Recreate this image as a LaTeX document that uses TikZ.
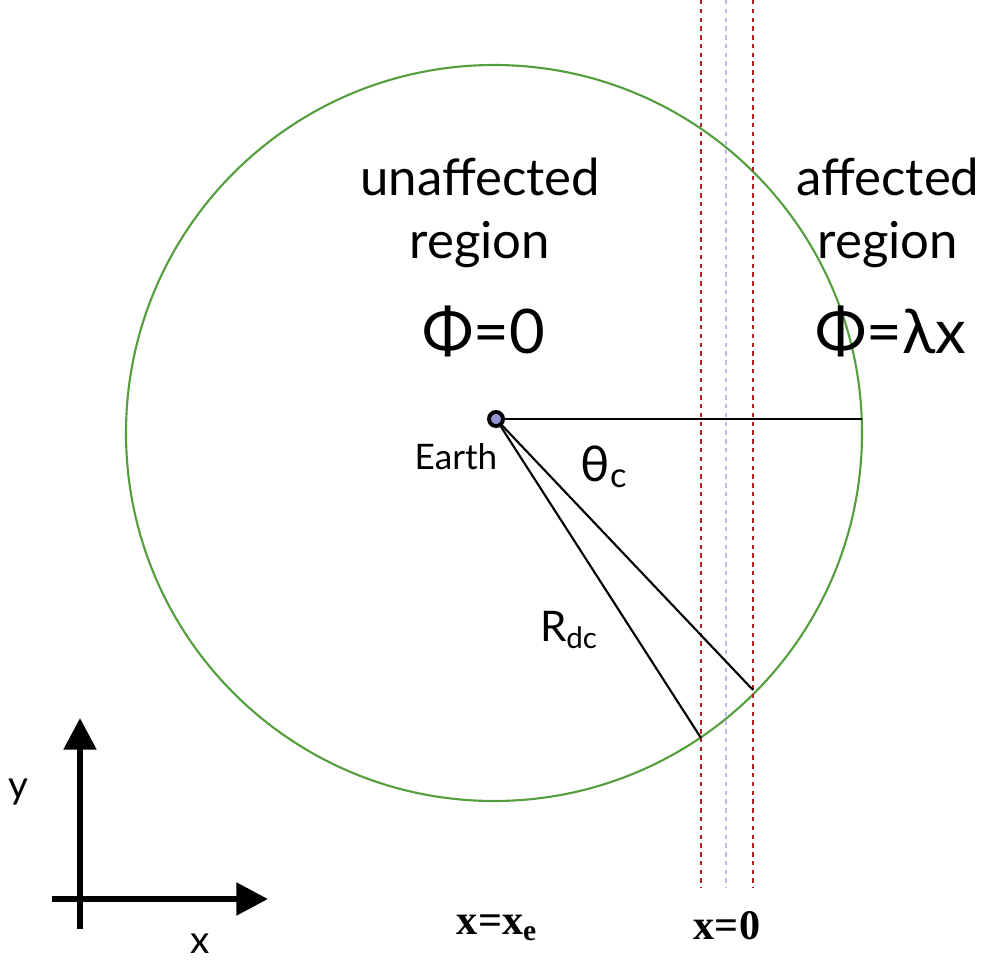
\documentclass[tikz,border=0pt]{standalone}
\usepackage{fontspec}
\setmainfont{Lato}
\newfontfamily\boldserif{Liberation Serif}
\usepackage{tikz}
\usetikzlibrary{arrows.meta,positioning,calc}
\definecolor{zonegreen}{RGB}{84,158,62}
\definecolor{edgered}{RGB}{175,35,35}
\definecolor{midblue}{RGB}{185,190,240}

\begin{document}
\begin{tikzpicture}[x=0.02cm,y=-0.02cm,
  bigtxt/.style={font=\fontsize{29}{36}\selectfont, align=center, inner sep=0pt},
  phitxt/.style={font=\fontsize{35}{40}\selectfont, inner sep=0pt},
  smalltxt/.style={font=\fontsize{20}{22}\selectfont, inner sep=0pt},
  bndtxt/.style={font=\boldserif\bfseries\fontsize{24}{28}\selectfont, inner sep=0pt},
  cut/.style={line width=1.2pt, dash pattern=on 2.5pt off 2.5pt},
  ray/.style={line width=1.2pt},
  axis/.style={line width=3.6pt, -{Triangle[length=18pt,width=18pt]}},
]
\useasboundingbox (0,0) rectangle (984,963);
% the sphere round the Earth
\draw[zonegreen, line width=1.2pt] (494,433) circle[x radius=368, y radius=-368];
% boundary strip
\draw[cut, edgered] (701,0) -- (701,888);
\draw[cut, midblue] (726,0) -- (726,888);
\draw[cut, edgered] (753,0) -- (753,888);
% Earth and its rays
\node[circle, draw, line width=2.2pt, fill=gray!60!blue!60, inner sep=0pt, minimum size=8pt] (earth) at (496,419) {};
\coordinate (rim) at (862,419);
\coordinate (hitzero) at (753,690);
\coordinate (hitxe) at (701,738);
\draw[ray] (earth) -- (rim);
\draw[ray] (earth) -- (hitzero);
\draw[ray] (earth) -- (hitxe);
\node[smalltxt] (earthlbl) at (456,457) {Earth};
\node[font=\fontsize{28}{30}\selectfont, inner sep=0pt] (thetalbl) at (604,467) {θ\textsubscript{c}};
\node[font=\fontsize{24}{26}\selectfont, inner sep=0pt] (rdclbl) at (569,630) {R\textsubscript{dc}};
% regions
\node[bigtxt] (unaff) at (480,213) {unaffected\\region};
\node[bigtxt] (aff) at (888,213) {affected\\region};
\node[phitxt] (phizero) at (484,331) {Φ=0};
\node[phitxt] (philin) at (891,331) {Φ=λx};
% boundary labels
\node[bndtxt] (xelbl) at (497,928) {x=x\textsubscript{e}};
\node[bndtxt] (zerolbl) at (727,926) {x=0};
% axes
\coordinate (origin) at (80,899);
\coordinate (ytip) at (80,718);
\coordinate (xtip) at (268,899);
\draw[axis] ($(origin)+(0,-2)$) -- (ytip);
\draw[axis] ($(origin)+(-28,0)$) -- (xtip);
\draw[line width=3.6pt] (origin) -- ++(0,30);
\node[font=\fontsize{22}{24}\selectfont, inner sep=0pt] (ylbl) at (18,792) {y};
\node[font=\fontsize{22}{24}\selectfont, inner sep=0pt] (xlbl) at (200,944) {x};
\end{tikzpicture}
\end{document}
